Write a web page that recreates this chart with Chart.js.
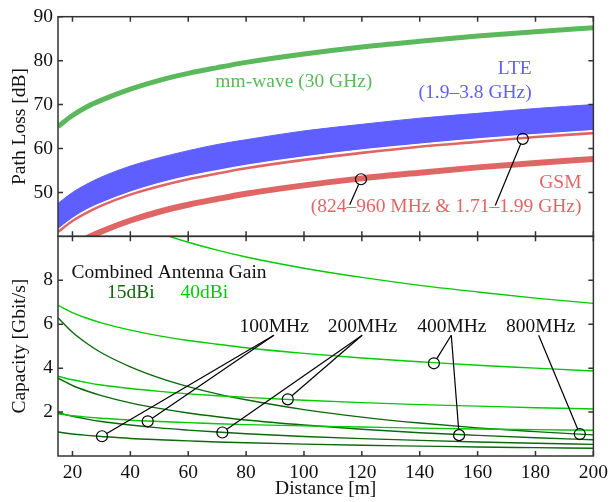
<!DOCTYPE html>
<html>
<head>
<meta charset="utf-8">
<script src="https://cdn.jsdelivr.net/npm/chart.js@4.4.1/dist/chart.umd.min.js"></script>
<style>
html, body { margin: 0; padding: 0; background: #fff; }
#wrap { width: 613px; height: 502px; }
</style>
</head>
<body>
<div id="wrap"><canvas id="chart" width="613" height="502"></canvas></div>
<script>
// distance samples [m]
const distance = [15, 20, 25, 30, 40, 50, 60, 70, 80, 100, 120, 140, 160, 180, 200];
const xTicks = [20, 40, 60, 80, 100, 120, 140, 160, 180, 200];
const lossTicks = [50, 60, 70, 80, 90];
const capTicks = [2, 4, 6, 8];

// path loss [dB]
const mmWave   = [65.0, 67.5, 69.5, 71.0, 73.5, 75.5, 77.1, 78.4, 79.6, 81.5, 83.1, 84.4, 85.6, 86.6, 87.5];
const lteUpper = [47.5, 50.0, 51.9, 53.5, 56.0, 57.9, 59.5, 60.9, 62.0, 64.0, 65.5, 66.9, 68.0, 69.1, 70.0];
const lteLower = [41.6, 44.1, 46.1, 47.6, 50.1, 52.1, 53.7, 55.0, 56.2, 58.1, 59.7, 61.0, 62.2, 63.2, 64.1];
const gsmHigh  = [41.0, 43.5, 45.4, 47.0, 49.5, 51.4, 53.0, 54.3, 55.5, 57.4, 59.0, 60.4, 61.5, 62.6, 63.5];
const gsmLow   = [35.1, 37.6, 39.6, 41.1, 43.6, 45.6, 47.2, 48.5, 49.7, 51.6, 53.2, 54.5, 55.7, 56.7, 57.6];

// capacity [Gbit/s], 15dBi combined gain
const cap15_800 = [6.29, 5.63, 5.12, 4.70, 4.06, 3.56, 3.16, 2.83, 2.56, 2.11, 1.77, 1.50, 1.28, 1.11, 0.96];
const cap15_400 = [3.54, 3.21, 2.96, 2.75, 2.42, 2.17, 1.96, 1.79, 1.64, 1.41, 1.22, 1.06, 0.94, 0.83, 0.74];
const cap15_200 = [1.97, 1.81, 1.68, 1.57, 1.41, 1.28, 1.18, 1.09, 1.01, 0.89, 0.79, 0.71, 0.64, 0.58, 0.53];
const cap15_100 = [1.09, 1.00, 0.94, 0.89, 0.80, 0.74, 0.69, 0.64, 0.60, 0.54, 0.49, 0.45, 0.41, 0.38, 0.35];
// capacity [Gbit/s], 40dBi combined gain
const cap40_800 = [12.93, 12.26, 11.75, 11.33, 10.66, 10.15, 9.73, 9.37, 9.06, 8.55, 8.13, 7.77, 7.47, 7.19, 6.95];
const cap40_400 = [6.86, 6.53, 6.27, 6.06, 5.73, 5.47, 5.26, 5.09, 4.93, 4.67, 4.46, 4.29, 4.13, 4.00, 3.87];
const cap40_200 = [3.63, 3.47, 3.34, 3.23, 3.07, 2.94, 2.83, 2.74, 2.67, 2.54, 2.43, 2.34, 2.27, 2.20, 2.14];
const cap40_100 = [1.92, 1.83, 1.77, 1.72, 1.63, 1.57, 1.52, 1.47, 1.43, 1.37, 1.32, 1.27, 1.23, 1.20, 1.17];

// annotation anchors, in data units
const bwLabels = ['100MHz', '200MHz', '400MHz', '800MHz'];
const bwLabelX = [89.7, 120.2, 151.1, 181.8];
const bwLeadX  = [89.6, 120.1, 150.9, 181.1];
const bwMarks  = [[[30.2, 0.90], [46.0, 1.58]], [[71.8, 1.07], [94.4, 2.58]], [[144.9, 4.22], [153.6, 0.95]], [[195.3, 1.00]]];
const gsmMarks = [[119.7, 53.0], [175.6, 62.2]];
const gsmLeadEnds = [[115.8, 47.2], [166.1, 47.0]];

const GREEN = '#5cb85c', BLUE = '#5f5fff', RED = '#e06666';
const DARK = '#0a6a0a', LIGHT = '#00cc00';
const FONT = "'Liberation Serif', 'DejaVu Serif', serif";
const FSIZE = 19.5;

const pts = arr => distance.map((d, i) => ({ x: d, y: arr[i] }));

function lossSet(arr, color, width, order, extra) {
    return Object.assign({ data: pts(arr), yAxisID: 'yTop', borderColor: color, borderWidth: width,
        pointRadius: 0, cubicInterpolationMode: 'monotone', fill: false, order: order }, extra || {});
}
function capSet(arr, color) {
    return { data: pts(arr), yAxisID: 'yBot', borderColor: color, borderWidth: 1.4,
        pointRadius: 0, cubicInterpolationMode: 'monotone', fill: false, order: 5 };
}

function drawMark(ctx, x, y) {
    ctx.beginPath(); ctx.arc(x, y, 5.5, 0, Math.PI * 2); ctx.stroke();
}
function drawLead(ctx, x1, y1, x2, y2) {
    // stop at the circle edge
    const dx = x2 - x1, dy = y2 - y1, len = Math.hypot(dx, dy);
    const ex = x2 - dx / len * 5.5, ey = y2 - dy / len * 5.5;
    ctx.beginPath(); ctx.moveTo(x1, y1); ctx.lineTo(ex, ey); ctx.stroke();
}
function label(ctx, txt, x, y, color, align) {
    ctx.fillStyle = color; ctx.textAlign = align || 'center'; ctx.textBaseline = 'middle';
    ctx.fillText(txt, x, y);
}

const panelPlugin = {
    id: 'panels',
    beforeDatasetDraw(chart, args) {
        const y = args.meta.yScale, a = chart.chartArea, ctx = chart.ctx;
        ctx.save(); ctx.beginPath(); ctx.rect(a.left, y.top, a.right - a.left, y.bottom - y.top); ctx.clip();
    },
    afterDatasetDraw(chart) { chart.ctx.restore(); },
    afterDraw(chart) {
        const ctx = chart.ctx, a = chart.chartArea, xs = chart.scales.x;
        const yt = chart.scales.yTop, yb = chart.scales.yBot;
        ctx.save();
        ctx.strokeStyle = '#333'; ctx.lineWidth = 1.5;
        // frames and inward ticks
        [[yt, lossTicks], [yb, capTicks]].forEach(([ys, ticks]) => {
            ctx.strokeRect(a.left, ys.top, a.right - a.left, ys.bottom - ys.top);
            ctx.beginPath();
            xTicks.forEach(v => {
                const x = xs.getPixelForValue(v);
                ctx.moveTo(x, ys.bottom); ctx.lineTo(x, ys.bottom - 5);
                ctx.moveTo(x, ys.top); ctx.lineTo(x, ys.top + 5);
            });
            ticks.forEach(v => {
                const y = ys.getPixelForValue(v);
                ctx.moveTo(a.left, y); ctx.lineTo(a.left + 5, y);
                ctx.moveTo(a.right, y); ctx.lineTo(a.right - 5, y);
            });
            ctx.stroke();
        });

        // axis titles
        ctx.font = FSIZE + 'px ' + FONT; ctx.fillStyle = '#111';
        ctx.textAlign = 'center'; ctx.textBaseline = 'alphabetic';
        [['Path Loss [dB]', yt], ['Capacity [Gbit/s]', yb]].forEach(([t, ys]) => {
            ctx.save(); ctx.translate(24.5, (ys.top + ys.bottom) / 2); ctx.rotate(-Math.PI / 2); ctx.fillText(t, 0, 0); ctx.restore();
        });
        ctx.fillText('Distance [m]', (a.left + a.right) / 2, 494);

        // top panel labels
        const X = v => xs.getPixelForValue(v), T = v => yt.getPixelForValue(v), B = v => yb.getPixelForValue(v);
        label(ctx, 'mm-wave (30 GHz)', X(96.5), T(75.1), GREEN);
        label(ctx, 'LTE', X(178.7), T(78.2), BLUE, 'right');
        label(ctx, '(1.9\u20133.8 GHz)', X(178.7), T(72.7), BLUE, 'right');
        label(ctx, 'GSM', X(195.9), T(52.1), RED, 'right');
        label(ctx, '(824\u2013960 MHz & 1.71\u20131.99 GHz)', X(195.9), T(46.8), RED, 'right');

        ctx.strokeStyle = '#000'; ctx.lineWidth = 1.2;
        gsmMarks.forEach((m, i) => {
            drawLead(ctx, X(gsmLeadEnds[i][0]), T(gsmLeadEnds[i][1]), X(m[0]), T(m[1]));
            drawMark(ctx, X(m[0]), T(m[1]));
        });

        // bottom panel labels
        label(ctx, 'Combined Antenna Gain', X(19.7), B(8.33), '#111', 'left');
        label(ctx, '15dBi', X(31.9), B(7.41), DARK, 'left');
        label(ctx, '40dBi', X(57.3), B(7.41), LIGHT, 'left');
        bwLabels.forEach((t, i) => {
            label(ctx, t, X(bwLabelX[i]), B(5.9), '#111');
            bwMarks[i].forEach(m => {
                drawLead(ctx, X(bwLeadX[i]), B(5.5), X(m[0]), B(m[1]));
                drawMark(ctx, X(m[0]), B(m[1]));
            });
        });
        ctx.restore();
    }
};

const tickFont = { family: FONT, size: FSIZE };

new Chart(document.getElementById('chart'), {
    type: 'line',
    data: {
        datasets: [
            lossSet(mmWave, GREEN, 5, 1),
            lossSet(lteLower, '#ffffff', 1, 1),
            lossSet(gsmHigh, RED, 2.6, 3),
            lossSet(gsmLow, RED, 6, 3),
            lossSet(lteUpper, BLUE, 1, 4, { fill: '+1', backgroundColor: BLUE }),
            lossSet(lteLower, 'rgba(0,0,0,0)', 1, 4),
            capSet(cap40_800, LIGHT), capSet(cap40_400, LIGHT), capSet(cap40_200, LIGHT), capSet(cap40_100, LIGHT),
            capSet(cap15_800, DARK), capSet(cap15_400, DARK), capSet(cap15_200, DARK), capSet(cap15_100, DARK)
        ]
    },
    options: {
        responsive: false,
        animation: false,
        events: [],
        layout: { padding: { left: 0, right: 15, top: 14, bottom: 0 } },
        plugins: { legend: { display: false }, tooltip: { enabled: false } },
        scales: {
            x: {
                type: 'linear', min: 15, max: 200,
                afterBuildTicks: s => { s.ticks = xTicks.map(v => ({ value: v })); },
                afterFit: s => { s.height = 46; },
                ticks: { autoSkip: false, maxRotation: 0, font: tickFont, color: '#111', padding: 5 },
                grid: { display: false, drawTicks: false }, border: { display: false }
            },
            yBot: {
                type: 'linear', position: 'left', stack: 'panels', stackWeight: 1, min: 0, max: 10,
                afterBuildTicks: s => { s.ticks = capTicks.map(v => ({ value: v })); },
                afterFit: s => { s.width = 58; },
                ticks: { font: tickFont, color: '#111', padding: 5 },
                grid: { display: false, drawTicks: false }, border: { display: false }
            },
            yTop: {
                type: 'linear', position: 'left', stack: 'panels', stackWeight: 1, min: 40, max: 90,
                afterBuildTicks: s => { s.ticks = lossTicks.map(v => ({ value: v })); },
                afterFit: s => { s.width = 58; },
                ticks: { font: tickFont, color: '#111', padding: 5 },
                grid: { display: false, drawTicks: false }, border: { display: false }
            }
        }
    },
    plugins: [panelPlugin]
});
</script>
</body>
</html>
